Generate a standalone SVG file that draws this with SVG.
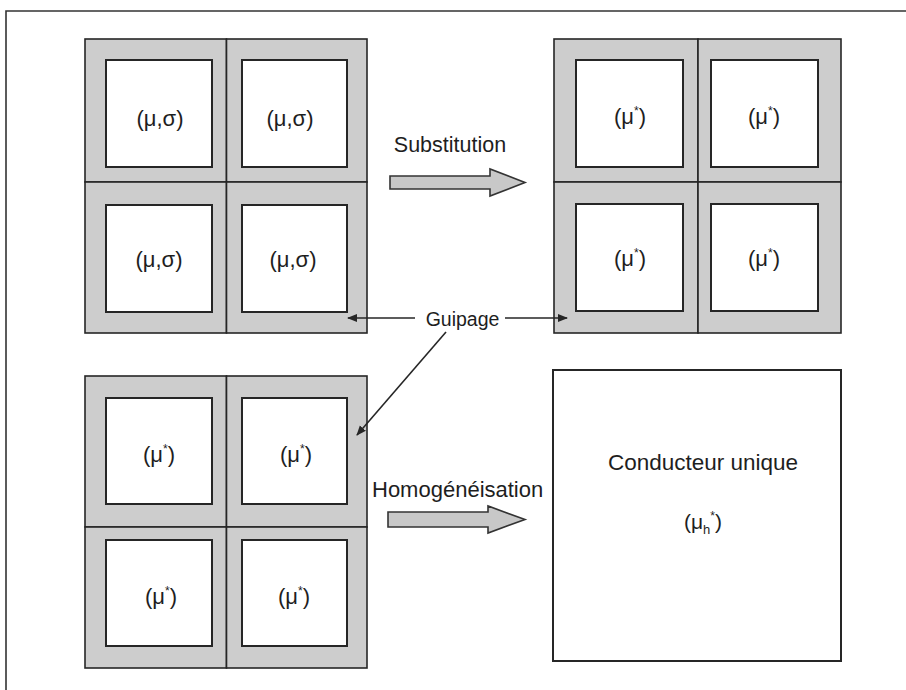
<svg xmlns="http://www.w3.org/2000/svg" width="906" height="690" viewBox="0 0 906 690">
<defs>
<style>
.cell{fill:#cdcdcd;stroke:#262626;stroke-width:1.6}
.core{fill:#ffffff;stroke:#262626;stroke-width:2}
.lbl{font-family:"Liberation Sans",Arial,sans-serif;fill:#1e1e1e}
.mu{font-size:22px;text-anchor:middle}
.sup{font-size:12px}
.con{stroke:#262626;stroke-width:1.6;fill:none}
.blk{fill:#c8c8c8;stroke:#333333;stroke-width:1.6;stroke-linejoin:miter}
</style>
<marker id="ah" viewBox="0 0 10 10" refX="9" refY="5" markerWidth="10" markerHeight="10" markerUnits="userSpaceOnUse" orient="auto">
<path d="M0,1 L10,5 L0,9 Z" fill="#262626"/>
</marker>
</defs>
<rect width="906" height="690" fill="#ffffff"/>
<path d="M6,690 V11 H906" fill="none" stroke="#333333" stroke-width="1.6"/>

<g id="grid-initial">
<rect class="cell" x="85" y="39" width="141.5" height="143"/>
<rect class="cell" x="226.5" y="39" width="140.5" height="143"/>
<rect class="cell" x="85" y="182" width="141.5" height="151"/>
<rect class="cell" x="226.5" y="182" width="140.5" height="151"/>
<rect class="core" x="106" y="60" width="106" height="107"/>
<rect class="core" x="242" y="60" width="105" height="107"/>
<rect class="core" x="106" y="205" width="106" height="107"/>
<rect class="core" x="242" y="205" width="105" height="107"/>
<text class="lbl mu" x="160" y="126">(μ,σ)</text>
<text class="lbl mu" x="290" y="126">(μ,σ)</text>
<text class="lbl mu" x="159" y="267">(μ,σ)</text>
<text class="lbl mu" x="293" y="267">(μ,σ)</text>
</g>

<g id="grid-substituted">
<rect class="cell" x="554" y="39" width="144" height="143"/>
<rect class="cell" x="698" y="39" width="143" height="143"/>
<rect class="cell" x="554" y="182" width="144" height="151"/>
<rect class="cell" x="698" y="182" width="143" height="151"/>
<rect class="core" x="576" y="60" width="107" height="107"/>
<rect class="core" x="711" y="60" width="107" height="107"/>
<rect class="core" x="576" y="204" width="107" height="107"/>
<rect class="core" x="711" y="204" width="107" height="107"/>
<text class="lbl mu" x="630" y="124">(μ<tspan class="sup" dy="-9">*</tspan><tspan dy="9">)</tspan></text>
<text class="lbl mu" x="764" y="124">(μ<tspan class="sup" dy="-9">*</tspan><tspan dy="9">)</tspan></text>
<text class="lbl mu" x="630" y="266">(μ<tspan class="sup" dy="-9">*</tspan><tspan dy="9">)</tspan></text>
<text class="lbl mu" x="764" y="266">(μ<tspan class="sup" dy="-9">*</tspan><tspan dy="9">)</tspan></text>
</g>

<g id="grid-guiped">
<rect class="cell" x="85" y="376" width="141.5" height="151"/>
<rect class="cell" x="226.5" y="376" width="140.5" height="151"/>
<rect class="cell" x="85" y="527" width="141.5" height="141"/>
<rect class="cell" x="226.5" y="527" width="140.5" height="141"/>
<rect class="core" x="106" y="398" width="106" height="106"/>
<rect class="core" x="242" y="398" width="105" height="106"/>
<rect class="core" x="106" y="540" width="106" height="106"/>
<rect class="core" x="242" y="540" width="105" height="106"/>
<text class="lbl mu" x="159" y="462">(μ<tspan class="sup" dy="-9">*</tspan><tspan dy="9">)</tspan></text>
<text class="lbl mu" x="296" y="462">(μ<tspan class="sup" dy="-9">*</tspan><tspan dy="9">)</tspan></text>
<text class="lbl mu" x="161" y="604">(μ<tspan class="sup" dy="-9">*</tspan><tspan dy="9">)</tspan></text>
<text class="lbl mu" x="294" y="604">(μ<tspan class="sup" dy="-9">*</tspan><tspan dy="9">)</tspan></text>
</g>

<g id="conducteur-unique">
<rect x="553" y="370" width="288" height="291" fill="#ffffff" stroke="#262626" stroke-width="2"/>
<text class="lbl" x="703" y="470" font-size="22.5" text-anchor="middle">Conducteur unique</text>
<text class="lbl" x="703" y="529" font-size="21" text-anchor="middle">(μ<tspan font-size="13" dy="5">h</tspan><tspan class="sup" dy="-14">*</tspan><tspan dy="9">)</tspan></text>
</g>

<g id="substitution">
<path class="blk" d="M390,176 H490 V169 L525,182.5 L490,196 V189 H390 Z"/>
<text class="lbl" x="450" y="152" font-size="21.5" text-anchor="middle">Substitution</text>
</g>

<g id="homogeneisation">
<path class="blk" d="M388,512 H488 V506 L525,519.5 L488,533 V527 H388 Z"/>
<text class="lbl" x="372" y="497" font-size="22">Homogénéisation</text>
</g>

<g id="guipage">
<text class="lbl" x="462.5" y="326" font-size="19.5" text-anchor="middle">Guipage</text>
</g>

<g id="connectors">
<line class="con" x1="415" y1="318" x2="348" y2="318" marker-end="url(#ah)"/>
<line class="con" x1="505" y1="318" x2="567" y2="318" marker-end="url(#ah)"/>
<line class="con" x1="446" y1="332" x2="357" y2="435" marker-end="url(#ah)"/>
</g>
</svg>
